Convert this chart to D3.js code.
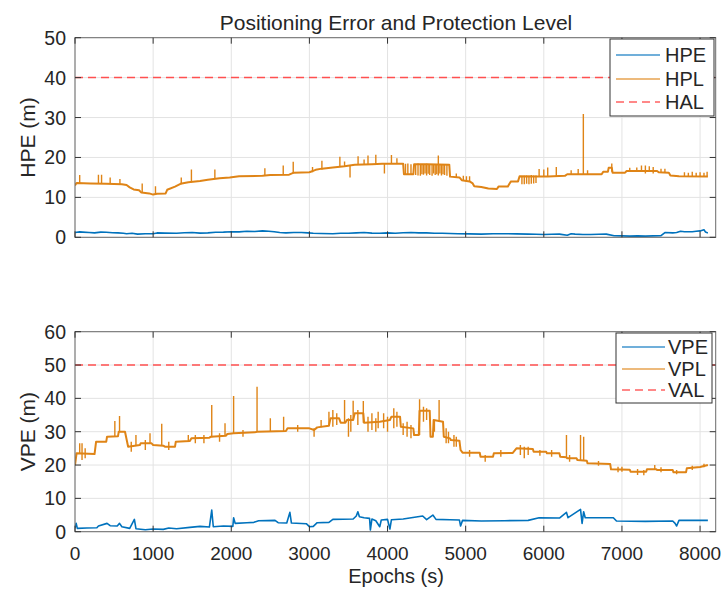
<!DOCTYPE html>
<html><head><meta charset="utf-8">
<script src="https://cdn.jsdelivr.net/npm/d3@7"></script>
<style>body{margin:0;background:#fff}svg{display:block}text{font-family:"Liberation Sans",Arial,sans-serif;fill:#262626}</style>
</head><body><svg id="c" width="724" height="589"></svg>
<script>
// ---------- data ----------
const xTicks = [0,1000,2000,3000,4000,5000,6000,7000,8000];
const topYTicks = [0,10,20,30,40,50];
const botYTicks = [0,10,20,30,40,50,60];
const HAL = 40, VAL = 50;
const topLegend = ["HPE","HPL","HAL"];
const botLegend = ["VPE","VPL","VAL"];

const hpe = [[0,1.2],[60,1.35],[100,1.3],[180,1.2],[250,1.1],[330,1.3],[400,1.25],[480,1.15],[550,1.1],[620,1.0],[660,0.9],[730,1.0],[800,0.8],[900,0.9],[1000,0.9],[1050,1.1],[1150,1.05],[1300,1.0],[1400,1.15],[1500,1.2],[1600,1.05],[1700,1.1],[1800,1.25],[1900,1.3],[2000,1.4],[2100,1.35],[2200,1.5],[2300,1.45],[2400,1.6],[2480,1.5],[2550,1.4],[2620,1.2],[2700,1.1],[2800,1.2],[2900,1.2],[2980,1.1],[3050,1.0],[3150,0.95],[3300,0.9],[3400,1.0],[3500,1.0],[3600,1.1],[3700,1.2],[3800,1.05],[3900,1.0],[4000,1.1],[4100,1.0],[4200,1.15],[4300,1.2],[4400,1.1],[4500,1.1],[4600,1.0],[4700,1.0],[4800,0.95],[4900,0.9],[5050,0.85],[5200,0.8],[5350,0.9],[5500,0.9],[5650,0.85],[5800,0.8],[5900,0.75],[6000,0.7],[6100,0.75],[6200,0.8],[6300,0.5],[6350,0.9],[6400,0.8],[6500,0.7],[6600,0.7],[6700,0.75],[6800,0.8],[6900,0.4],[7000,0.35],[7100,0.3],[7200,0.35],[7300,0.3],[7400,0.35],[7500,0.4],[7550,1.2],[7650,1.1],[7700,1.2],[7750,1.5],[7800,1.4],[7900,1.4],[7950,1.5],[8000,1.6],[8050,1.9],[8070,1.3],[8100,1.1]];

const hpl = [[0,13.0],[20,13.6],[200,13.5],[400,13.4],[600,13.3],[660,13.1],[700,12.5],[750,12.0],[820,11.8],[850,11.2],[950,11.0],[1000,10.7],[1050,10.9],[1160,11.0],[1180,11.9],[1280,12.7],[1350,13.4],[1450,13.8],[1600,14.1],[1700,14.4],[1850,14.8],[1980,15.0],[2100,15.3],[2400,15.4],[2500,15.6],[2740,15.7],[2800,16.2],[3000,16.3],[3080,16.9],[3160,17.2],[3300,17.5],[3450,17.8],[3580,18.2],[3800,18.3],[3930,18.4],[4200,18.4],[4210,15.8],[4330,15.8],[4340,18.3],[4500,18.3],[4790,18.2],[4800,15.2],[4920,15.0],[4950,14.3],[5050,14.0],[5090,13.5],[5110,12.8],[5200,12.6],[5290,12.2],[5400,12.1],[5420,12.7],[5540,12.7],[5560,13.4],[5580,14.0],[5670,14.0],[5690,15.3],[5920,15.2],[6050,15.2],[6270,15.4],[6300,15.8],[6740,15.8],[6760,16.4],[6820,16.4],[6830,17.4],[6870,17.4],[6880,16.2],[7040,16.2],[7060,16.6],[7450,16.6],[7470,16.3],[7600,16.2],[7620,15.5],[7730,15.3],[8100,15.2]];

const hplSpikes = [[60,13.5,15.6],[300,13.5,15.7],[340,13.4,15.7],[450,13.4,15.0],[575,13.3,14.6],[860,11.2,13.5],[1030,10.8,12.8],[1360,13.3,15.0],[1490,13.8,17.0],[1790,14.6,17.0],[2430,15.4,17.3],[2665,15.6,18.0],[2793,16.0,18.9],[3040,16.3,17.6],[3160,17.0,19.2],[3390,17.6,20.2],[3450,17.8,19.0],[3520,15.0,18.0],[3623,18.2,20.3],[3700,18.2,19.5],[3750,18.2,20.5],[3850,18.3,20.7],[3960,16.0,18.4],[4050,18.4,20.6],[4120,18.4,19.8],[4230,15.8,18.4],[4260,15.8,18.5],[4300,15.8,18.3],[4360,15.6,18.3],[4390,15.5,18.5],[4420,15.4,18.3],[4440,15.8,18.3],[4460,15.7,18.3],[4480,16.0,18.3],[4500,15.5,18.4],[4520,15.9,18.3],[4540,15.6,18.3],[4570,15.4,18.2],[4590,16.0,18.2],[4610,15.6,18.3],[4630,15.8,18.3],[4650,15.5,20.5],[4670,16.0,18.2],[4690,15.5,18.3],[4710,15.8,18.2],[4730,15.6,18.2],[4760,15.4,18.2],[4880,15.0,16.0],[4970,14.2,15.4],[5010,14.0,15.3],[5050,14.0,15.3],[5720,13.3,15.3],[5750,13.3,15.4],[5780,13.4,15.5],[5810,13.3,15.4],[5840,13.4,15.6],[5870,13.5,15.5],[5900,13.6,15.5],[5940,15.2,17.1],[6000,15.2,17.0],[6050,15.2,17.5],[6160,15.3,17.6],[6350,15.8,16.8],[6440,15.8,17.1],[6506,15.8,30.9],[6560,15.8,16.8],[6870,16.4,18.5],[7100,16.6,17.4],[7190,16.6,17.5],[7250,16.6,18.0],[7300,16.0,18.0],[7350,16.6,17.8],[7400,16.0,17.6],[7500,16.3,17.2],[7550,16.3,17.2],[7800,15.3,16.3],[7850,15.3,16.2],[7900,15.3,16.4],[7950,15.3,16.2],[8000,15.3,16.3],[8050,15.3,16.2],[8090,15.2,16.4]];

const vpe = [[0,1],[15,2.5],[30,1],[150,1.1],[280,1.2],[300,1.7],[410,2.5],[450,1.8],[540,1.7],[570,2.5],[600,1.5],[700,1],[760,3.7],[780,0.9],[900,0.6],[1000,0.8],[1130,0.7],[1200,1.1],[1300,0.9],[1470,1.3],[1600,1.6],[1720,1.4],[1750,6.5],[1770,1.5],[1900,1.7],[2020,1.6],[2030,4.2],[2050,2.5],[2200,2.7],[2290,2.8],[2350,3.3],[2560,3.4],[2600,2.7],[2710,2.6],[2750,5.8],[2770,2.6],[2960,2.4],[3000,1.5],[3050,1.6],[3100,2.7],[3250,2.8],[3300,3.7],[3560,3.8],[3600,4.7],[3620,6],[3640,4.5],[3700,4.2],[3770,4],[3780,0.5],[3800,3.8],[3850,3.3],[3900,1.5],[3920,3.5],[4000,3.7],[4030,0.8],[4050,3.6],[4200,3.8],[4450,4.7],[4500,3.6],[4580,5],[4620,3.7],[4800,3.6],[4920,3.5],[4935,1.7],[4960,3.4],[5200,3.2],[5500,3.3],[5800,3.4],[5940,4.2],[6200,4.1],[6290,5.8],[6310,4.2],[6470,6.7],[6490,2.5],[6510,6],[6530,4.2],[6890,4.2],[6930,3.2],[7300,3.1],[7650,3.2],[7680,2.5],[7700,1.7],[7730,3.4],[8100,3.4]];

const vpl = [[0,20],[20,23.5],[250,23.3],[270,27],[400,27],[410,28.5],[550,28.6],[560,30],[640,30],[680,25.5],[830,26],[840,26.5],[980,26.5],[1000,26],[1130,25.8],[1150,25.5],[1280,25.5],[1290,27],[1470,27.2],[1490,28],[1720,28.2],[1740,28.5],[1930,28.8],[1950,29.3],[2030,29.5],[2300,29.8],[2330,30],[2700,30.2],[2720,31],[3000,31],[3060,30.5],[3100,31.3],[3250,31.8],[3270,34],[3380,34],[3400,32.7],[3460,32.7],[3480,33.5],[3560,33.5],[3580,35.5],[3690,35.5],[3700,32.7],[3900,33],[4030,33.5],[4050,34.5],[4160,34.5],[4170,31.5],[4330,31],[4340,29],[4400,29],[4410,36.3],[4540,36.3],[4550,28.5],[4580,28.5],[4590,33.5],[4710,33],[4720,28.5],[4800,28],[4810,27.5],[4920,27.3],[4935,24.5],[4960,23.7],[5180,23.7],[5190,22.5],[5350,22.5],[5360,23.5],[5600,23.6],[5650,25],[5860,24.8],[5870,24],[6030,24],[6040,23.5],[6200,23.5],[6210,22.5],[6290,22.3],[6300,22],[6420,22],[6430,21.5],[6550,21.3],[6560,20.5],[6850,20.3],[6860,18.7],[7100,18.6],[7110,18],[7310,18],[7320,18.7],[7440,18.7],[7450,18.5],[7650,18.5],[7660,17.8],[7820,17.8],[7830,19],[8000,19.4],[8100,20]];

const vplSpikes = [[60,23.4,26.5],[90,21.5,26.5],[130,22,25],[510,28.5,33.2],[570,30,34.7],[720,24,27],[780,25.8,29],[900,24.5,27.5],[960,26.5,29.5],[1110,25.8,32.4],[1200,24.5,27],[1450,27,29],[1540,26.5,29],[1650,26.5,29],[1750,28.3,38],[1850,27,29.5],[1920,28.8,32.5],[2030,29.5,40.7],[2150,28.5,30.5],[2330,30,43.5],[2500,30.1,34],[2670,30.2,34.5],[2850,30,32],[3060,28.5,31],[3150,31.3,33.5],[3250,31.8,36],[3300,31.5,36.5],[3350,32,35.5],[3450,32.7,39.5],[3500,28.5,34],[3530,30,35],[3560,33.5,39.3],[3620,32,36.5],[3690,32.7,39.2],[3750,30,34.5],[3800,30.5,35.5],[3850,30,34],[3880,31,36],[3950,31,35.5],[4000,30,34.5],[4080,31,37],[4120,31.5,36],[4200,29,32.5],[4250,28.5,33],[4300,28,32],[4410,29,39.7],[4460,33,37.5],[4500,33.5,37],[4600,30,33.5],[4660,33,39.5],[4750,26.5,31],[4780,26.5,30],[4850,25.5,29],[4880,25.5,28.5],[5050,22.5,24.5],[5250,21,23],[5450,22.5,24.5],[5700,23,26],[5750,22,25.5],[5800,23,25.5],[5950,22.8,24.5],[6100,22.5,24.5],[6290,22.3,29],[6330,21,23],[6470,21.5,29],[6510,21.3,28.5],[6700,19.8,21.2],[6950,17.8,19.5],[7000,18,19.5],[7200,17,18.8],[7280,16.9,18.5],[7420,18.7,20],[7500,17.8,19.3],[7700,17.2,18.5],[7900,18.5,19.8],[8050,19.3,20.4]];

// ---------- drawing ----------
const svg = d3.select("#c");
const BLUE = "#0072BD", ORANGE = "#DF8416", RED = "#FF5050";
const x = d3.scaleLinear().domain([0,8200]).range([75,715.7]);

function panel(top, bottom, ymax, yTicks, err, pl, spikes, limit, showX, ylab, legendNames, lg) {
  const y = d3.scaleLinear().domain([0,ymax]).range([bottom, top]);
  const g = svg.append("g");
  g.selectAll(".gx").data(xTicks).join("line")
    .attr("x1", d=>x(d)).attr("x2", d=>x(d)).attr("y1", top).attr("y2", bottom)
    .attr("stroke", "#e3e3e3").attr("stroke-width", 1);
  g.selectAll(".gy").data(yTicks).join("line")
    .attr("x1", 75).attr("x2", 715.7).attr("y1", d=>y(d)).attr("y2", d=>y(d))
    .attr("stroke", "#e3e3e3").attr("stroke-width", 1);
  const clip = "clip" + Math.round(top);
  g.append("clipPath").attr("id", clip).append("rect")
    .attr("x", 75).attr("y", top).attr("width", 640.7).attr("height", bottom-top);
  const pg = g.append("g").attr("clip-path", `url(#${clip})`);
  const line = d3.line().x(d=>x(d[0])).y(d=>y(d[1]));
  pg.append("path").attr("d", line(err)).attr("fill","none").attr("stroke", BLUE).attr("stroke-width", 1.6).attr("stroke-linejoin","round");
  pg.append("path").attr("d", line(pl)).attr("fill","none").attr("stroke", ORANGE).attr("stroke-width", 2).attr("stroke-linejoin","round");
  pg.selectAll(".sp").data(spikes).join("line")
    .attr("x1", d=>x(d[0])).attr("x2", d=>x(d[0])).attr("y1", d=>y(d[1])).attr("y2", d=>y(d[2]))
    .attr("stroke", ORANGE).attr("stroke-width", 1.4);
  pg.append("line").attr("x1", x(0)).attr("x2", x(8200)).attr("y1", y(limit)).attr("y2", y(limit))
    .attr("stroke", RED).attr("stroke-width", 1.5).attr("stroke-dasharray", "8,5");
  g.append("rect").attr("x", 75).attr("y", top).attr("width", 640.7).attr("height", bottom-top)
    .attr("fill", "none").attr("stroke", "#6a6a6a").attr("stroke-width", 1);
  g.selectAll(".tb").data(xTicks).join("line")
    .attr("x1", d=>x(d)).attr("x2", d=>x(d)).attr("y1", bottom).attr("y2", bottom-6).attr("stroke", "#333");
  g.selectAll(".tt").data(xTicks).join("line")
    .attr("x1", d=>x(d)).attr("x2", d=>x(d)).attr("y1", top).attr("y2", top+6).attr("stroke", "#333");
  g.selectAll(".tl").data(yTicks).join("line")
    .attr("x1", 75).attr("x2", 81).attr("y1", d=>y(d)).attr("y2", d=>y(d)).attr("stroke", "#333");
  g.selectAll(".tr").data(yTicks).join("line")
    .attr("x1", 715.7).attr("x2", 709.7).attr("y1", d=>y(d)).attr("y2", d=>y(d)).attr("stroke", "#333");
  g.selectAll(".yl").data(yTicks).join("text")
    .attr("x", 66).attr("y", d=>y(d)).attr("dy", "0.36em").attr("text-anchor", "end")
    .attr("font-size", 19.5).text(d=>d);
  if (showX) {
    g.selectAll(".xl").data(xTicks).join("text")
      .attr("x", d=>x(d)).attr("y", bottom+28).attr("text-anchor", "middle")
      .attr("font-size", 19).text(d=>d);
  }
  g.append("text").attr("transform", `translate(35,${(top+bottom)/2}) rotate(-90)`)
    .attr("text-anchor", "middle").attr("font-size", 21).text(ylab);
  const lgG = g.append("g");
  lgG.append("rect").attr("x", lg.x).attr("y", lg.y).attr("width", lg.w).attr("height", lg.h)
    .attr("fill", "#fff").attr("stroke", "#333").attr("stroke-width", 1);
  const cols = [BLUE, ORANGE, RED];
  legendNames.forEach((n,i)=>{
    const yy = lg.rows[i];
    lgG.append("line").attr("x1", lg.lx1).attr("x2", lg.lx2).attr("y1", yy).attr("y2", yy)
      .attr("stroke", cols[i]).attr("stroke-opacity", i==2?0.9:0.75).attr("stroke-width", 1.4)
      .attr("stroke-dasharray", i==2?"8,5":null);
    lgG.append("text").attr("x", lg.tx).attr("y", yy).attr("dy","0.36em").attr("font-size", 20).attr("fill","#111").text(n);
  });
}

panel(37.7, 237.3, 50, topYTicks, hpe, hpl, hplSpikes, HAL, false, "HPE (m)", topLegend,
  {x:610, y:39, w:104, h:77, rows:[55,79,102], lx1:616, lx2:660, tx:665});
panel(331.7, 531.7, 60, botYTicks, vpe, vpl, vplSpikes, VAL, true, "VPE (m)", botLegend,
  {x:616, y:333, w:96, h:70, rows:[347,369,390], lx1:622, lx2:665, tx:668});

svg.append("text").attr("x", 396).attr("y", 29.5).attr("text-anchor","middle").attr("font-size", 21).attr("fill","#111")
  .text("Positioning Error and Protection Level");
svg.append("text").attr("x", 396).attr("y", 583).attr("text-anchor","middle").attr("font-size", 20)
  .text("Epochs (s)");
</script></body></html>
